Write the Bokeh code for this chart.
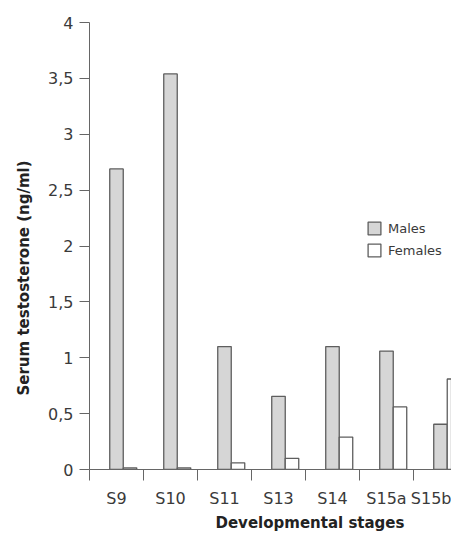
from bokeh.plotting import figure
from bokeh.models import ColumnDataSource, FixedTicker, Legend, LegendItem, Title
from bokeh.transform import dodge
from bokeh.embed import file_html
from bokeh.resources import INLINE

stages = ["S9", "S10", "S11", "S13", "S14", "S15a", "S15b"]
males = [2.69, 3.54, 1.10, 0.655, 1.10, 1.06, 0.405]
females = [0.015, 0.015, 0.06, 0.10, 0.29, 0.56, 0.81]
y_ticks = [0, 0.5, 1, 1.5, 2, 2.5, 3, 3.5, 4]
y_tick_labels = ["0", "0,5", "1", "1,5", "2", "2,5", "3", "3,5", "4"]

idx = list(range(len(stages)))
src = ColumnDataSource(dict(x=idx, males=males, females=females))

FONT = "DejaVu Sans"
AX = "#666666"
TXT = "#3a3a3a"

p = figure(width=451, height=532, output_backend="svg", toolbar_location=None,
           x_range=(-0.5, 6.204), y_range=(0, 4),
           min_border_left=89, min_border_top=22, min_border_bottom=61,
           min_border_right=0)
p.outline_line_color = None
p.xgrid.visible = False
p.ygrid.visible = False
p.background_fill_color = "white"

bw = 0.25
r_m = p.vbar(x=dodge("x", 0, range=p.x_range), top="males", width=bw, source=src,
             fill_color="#d6d6d6", line_color="#5e5e5e", line_width=1.3)
r_f = p.vbar(x=dodge("x", bw, range=p.x_range), top="females", width=bw, source=src,
             fill_color="white", line_color="#5e5e5e", line_width=1.3)

# x axis
xa = p.xaxis[0]
xa.ticker = FixedTicker(ticks=idx, minor_ticks=[i - 0.5 for i in range(len(stages) + 1)])
xa.major_label_overrides = {i: s for i, s in enumerate(stages)}
xa.major_tick_out = 0
xa.major_tick_in = 0
xa.minor_tick_out = 11
xa.minor_tick_in = 0
xa.minor_tick_line_color = AX
xa.axis_line_color = AX
xa.major_label_standoff = 8
xa.major_label_text_font = FONT
xa.major_label_text_font_size = "16px"
xa.major_label_text_color = TXT

# y axis
ya = p.yaxis[0]
ya.ticker = FixedTicker(ticks=y_ticks)
ya.major_label_overrides = {t: l for t, l in zip(y_ticks, y_tick_labels)}
ya.minor_tick_line_color = None
ya.major_tick_out = 10
ya.major_tick_in = 0
ya.major_tick_line_color = AX
ya.axis_line_color = AX
ya.major_label_standoff = 6
ya.major_label_text_font = FONT
ya.major_label_text_font_size = "16px"
ya.major_label_text_color = TXT

# axis titles
xt = Title(text="Developmental stages", align="left", offset=126, standoff=2,
           text_font=FONT, text_font_size="15px", text_font_style="bold",
           text_color="#222222")
p.add_layout(xt, "below")
yt = Title(text="Serum testosterone (ng/ml)", align="left", offset=74, standoff=25,
           text_font=FONT, text_font_size="15px", text_font_style="bold",
           text_color="#222222")
p.add_layout(yt, "left")

legend = Legend(items=[LegendItem(label="Males", renderers=[r_m]),
                       LegendItem(label="Females", renderers=[r_f])],
                location=(277, 211), background_fill_alpha=0, border_line_color=None,
                glyph_width=16, glyph_height=16, label_text_font=FONT,
                label_text_font_size="13px", label_text_color=TXT,
                spacing=6, padding=0, margin=0, label_standoff=6)
p.add_layout(legend, "center")

open("out.html", "w").write(file_html(p, INLINE))
